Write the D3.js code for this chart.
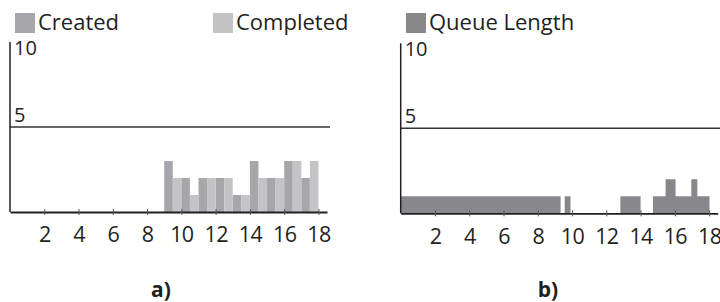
<!DOCTYPE html>
<html><head><meta charset="utf-8">
<script src="https://cdn.jsdelivr.net/npm/d3@7"></script>
<style>
html,body{margin:0;padding:0;background:#fff;}
svg text{font-family:"Open Sans","Noto Sans",sans-serif;fill:#231f20;}
</style></head>
<body><svg id="c" width="720" height="302"></svg>
<script>
// Data
const hours = [0,1,2,3,4,5,6,7,8,9,10,11,12,13,14,15,16,17];
const created   = [0,0,0,0,0,0,0,0,0,3,2,2,2,1,3,2,3,2];
const completed = [0,0,0,0,0,0,0,0,0,2,1,2,2,1,2,2,3,3];
const queueTimes  = [0,9.33,9.57,9.91,12.82,14.0,14.72,15.46,16.04,16.96,17.31,18.02];
const queueValues = [1,0,1,0,1,0,1,2,1,2,1,1];
const xTicks = [2,4,6,8,10,12,14,16,18];
const yLabels = [10,5];
const legendA = ["Created","Completed"];
const legendB = ["Queue Length"];
const captions = ["a)","b)"];

const colCreated = "#a7a7ab", colCompleted = "#c4c4c8", colQueue = "#88888c";
const ink = "#231f20";
const svg = d3.select("#c");

function panel(opt){
  const g = svg.append("g");
  const x = d3.scaleLinear().domain([0,18.5]).range([opt.x0, opt.x0+317]);
  const y = d3.scaleLinear().domain([0,10]).range([opt.y0, opt.y0-170]);
  opt.draw(g,x,y);
  // 5 reference line
  g.append("line").attr("x1",opt.x0).attr("x2",opt.x0+320)
    .attr("y1",y(5)).attr("y2",y(5)).attr("stroke","#333").attr("stroke-width",1.6);
  // y axis
  g.append("line").attr("x1",opt.x0).attr("x2",opt.x0)
    .attr("y1",y(0)).attr("y2",y(10)).attr("stroke",ink).attr("stroke-width",1.5);
  g.selectAll("text.yl").data(yLabels).join("text").attr("class","yl")
    .attr("x",opt.x0+4).attr("y",d=>d===10? y(d)+13 : y(d)-5)
    .attr("font-size",20).text(d=>d);
  // x axis
  const ax = g.append("g").attr("transform",`translate(0,${y(0)})`)
    .call(d3.axisBottom(x).tickValues(xTicks).tickSizeInner(3).tickSizeOuter(0).tickPadding(12));
  ax.select(".domain").attr("stroke",ink).attr("stroke-width",1.8);
  ax.selectAll(".tick line").attr("y1",-3).attr("stroke","#555").attr("stroke-width",1);
  ax.selectAll(".tick text").attr("font-size",21.5).attr("font-family","Open Sans").attr("fill",ink)
    .attr("dy","0.71em").attr("letter-spacing",-0.6);
  // caption
  g.append("text").attr("x",opt.capX).attr("y",297).attr("text-anchor","middle")
    .attr("font-size",21).attr("font-weight","bold").text(opt.caption);
  // legend
  opt.legend.forEach((l,i)=>{
    g.append("rect").attr("x",l.x).attr("y",13).attr("width",20).attr("height",20).attr("fill",l.c);
    g.append("text").attr("x",l.x+23).attr("y",30).attr("font-size",22).text(l.t);
  });
}

panel({x0:10, y0:212, capX:161, caption:captions[0],
  legend:[{x:15,t:legendA[0],c:colCreated},{x:213,t:legendA[1],c:colCompleted}],
  draw:(g,x,y)=>{
    g.selectAll("rect.cr").data(hours).join("rect").attr("class","cr")
      .attr("x",h=>x(h)).attr("width",h=>x(h+0.5)-x(h))
      .attr("y",h=>y(created[h])).attr("height",h=>y(0)-y(created[h])).attr("fill",colCreated);
    g.selectAll("rect.co").data(hours).join("rect").attr("class","co")
      .attr("x",h=>x(h+0.5)).attr("width",h=>x(h+1)-x(h+0.5))
      .attr("y",h=>y(completed[h])).attr("height",h=>y(0)-y(completed[h])).attr("fill",colCompleted);
  }});

panel({x0:400.7, y0:213.3, capX:548, caption:captions[1],
  legend:[{x:406,t:legendB[0],c:colQueue}],
  draw:(g,x,y)=>{
    const pts = queueTimes.map((t,i)=>[t,queueValues[i]]);
    const area = d3.area().curve(d3.curveStepAfter).x(d=>x(d[0])).y0(y(0)).y1(d=>y(d[1]));
    g.append("path").attr("d",area(pts)).attr("fill",colQueue);
  }});
</script></body></html>
